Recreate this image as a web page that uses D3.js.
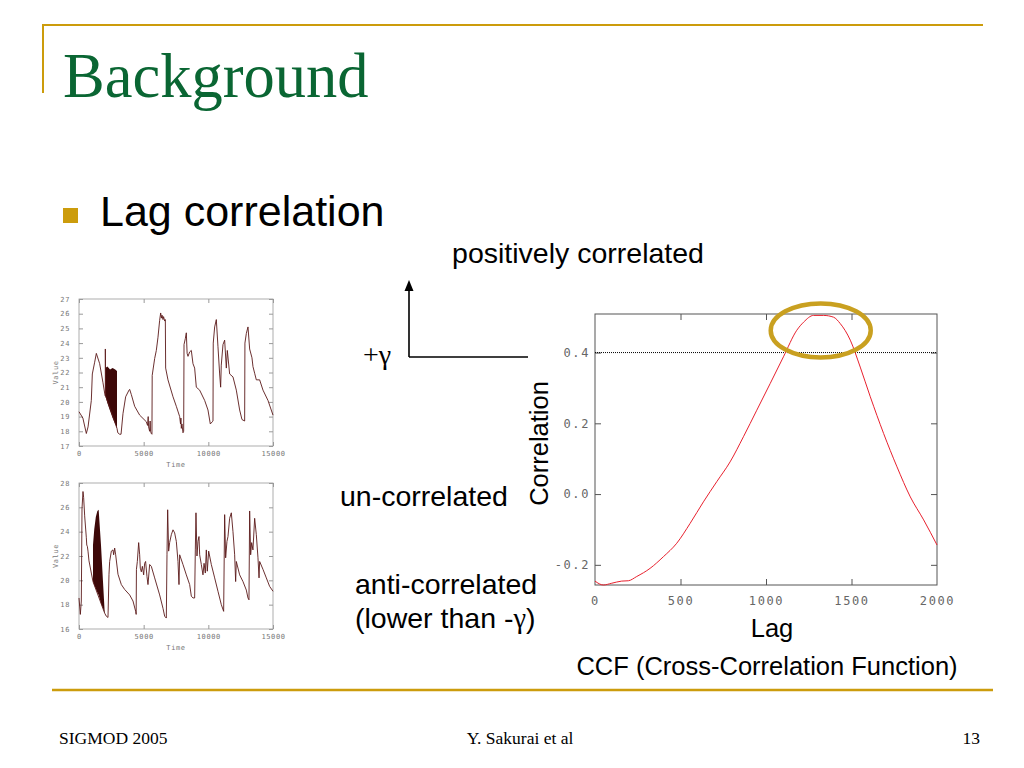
<!DOCTYPE html>
<html><head><meta charset="utf-8">
<script src="https://cdn.jsdelivr.net/npm/d3@7"></script>
<style>
html,body{margin:0;padding:0;background:#fff;}
svg{display:block;}
.mono{font-family:"DejaVu Sans Mono",monospace;}
</style></head>
<body>
<script>
// ---------- DATA ----------
const ccfLag = [0,49,98,156,195,244,322,400,478,556,634,712,790,868,946,1024,1102,1180,1220,1278,1337,1395,1434,1493,1551,1610,1688,1766,1844,1922,2000];
const ccfVal = [-0.246,-0.257,-0.252,-0.246,-0.245,-0.233,-0.210,-0.177,-0.139,-0.083,-0.022,0.035,0.091,0.162,0.237,0.312,0.388,0.463,0.486,0.505,0.505,0.500,0.482,0.435,0.359,0.275,0.171,0.077,-0.008,-0.073,-0.144];
const threshold = 0.4;
const ccfXTicks = [0,500,1000,1500,2000];
const ccfYTicks = [-0.2,0.0,0.2,0.4];

const seriesA = [[0,19.33],[300,18.9],[567,17.85],[700,18.3],[953,20.1],[1030,21.9],[1211,22.7],[1340,23.3],[1598,22.6],[1855,21.3],[1984,20.6],[2036,20.4],[2036,23.6],[2060,20.4],
 [2938,18.2],[3000,17.9],[3144,17.8],[3250,17.8],[3400,19.2],[3608,20.35],[3866,20.8],[3917,20.85],[4046,20.5],[4304,19.7],[4690,19.1],[5205,18.65],[5300,18.4],[5350,19.0],[5380,18.3],[5463,18.0],[5500,18.7],[5530,18.0],[5592,17.85],[5640,17.8],[5660,21.8],[5850,22.95],[5979,23.5],[6108,24.4],[6236,25.55],[6314,26.05],[6380,25.7],[6420,25.9],[6494,25.6],[6540,25.8],[6623,25.5],[6675,25.6],[6700,22.3],[6880,21.5],[7267,20.35],[7525,19.7],[7783,19.0],[7850,18.5],[7880,18.9],[7911,18.2],[7960,18.5],[8040,17.9],[8092,18.0],[8120,23.9],[8220,24.3],[8298,24.7],[8360,23.3],[8427,23.1],[8556,23.4],[8685,23.5],[8813,22.6],[8942,22.3],[9071,21.0],[9329,20.8],[9715,20.1],[9973,19.45],[10153,18.5],[10308,18.65],[10360,18.7],[10380,24.0],[10489,25.1],[10618,25.6],[10746,23.75],[10875,21.9],[10952,21.0],[11000,22.5],[11133,23.9],[11262,24.2],[11391,22.3],[11468,23.5],[11648,21.9],[11906,21.7],[12164,20.8],[12421,19.45],[12601,18.8],[12808,18.7],[12830,24.0],[12937,24.65],[13066,25.1],[13195,23.6],[13375,23.0],[13452,22.4],[13581,21.95],[13710,21.5],[13968,21.5],[14226,20.8],[14612,20.1],[15000,19.1]];
const bandAT  = [2036,2200,2400,2600,2800,2938];
const bandAHi = [22.3,22.4,22.2,22.3,22.2,22.1];
const bandALo = [20.4,19.9,19.4,18.9,18.5,18.2];

const seriesB = [[0,18.55],[103,17.2],[180,18.3],[232,25.9],[309,27.3],[360,26.8],[438,25.3],[567,23.5],[600,22.9],[644,22.8],[696,22.4],[773,21.6],[953,20.6],[1082,19.9],
 [1985,17.3],[2113,17.05],[2242,16.95],[2319,20.5],[2371,21.55],[2500,22.4],[2628,22.5],[2680,22.1],[2757,22.65],[2835,22.1],[3015,20.5],[3273,19.65],[3531,19.25],[3917,18.8],[4175,18.3],[4381,17.45],[4420,17.2],[4440,20.9],[4510,21.55],[4613,23.1],[4690,22.1],[4740,21.0],[4820,20.7],[4900,21.15],[5000,20.45],[5076,21.4],[5150,21.55],[5257,20.3],[5334,19.65],[5463,21.3],[5592,21.15],[5850,20.2],[6236,18.8],[6494,17.7],[6623,17.05],[6752,16.9],[6803,22.1],[6855,25.8],[6932,22.4],[7009,23.1],[7138,23.75],[7267,24.15],[7396,23.9],[7525,23.2],[7654,21.55],[7731,19.65],[7783,22.1],[8040,21.3],[8298,20.45],[8556,19.65],[8685,18.7],[8813,18.55],[8942,18.55],[8994,22.5],[9045,25.55],[9122,22.0],[9200,23.2],[9277,23.6],[9330,22.1],[9458,21.3],[9586,20.45],[9670,21.4],[9767,20.6],[9844,22.5],[9920,20.75],[10025,22.4],[10231,21.3],[10489,20.2],[10746,19.1],[11004,18.0],[11184,17.45],[11262,25.4],[11339,21.85],[11440,23.2],[11520,23.6],[11648,25.1],[11777,25.55],[11906,24.0],[12035,22.1],[12112,19.9],[12164,21.55],[12421,20.45],[12679,19.9],[12937,19.2],[13066,18.55],[13143,18.4],[13195,25.7],[13272,22.1],[13349,23.1],[13450,22.5],[13581,25.1],[13710,23.75],[13839,21.85],[13920,20.2],[13968,21.55],[14226,20.9],[14483,20.2],[14741,19.5],[15000,19.1]];
const bandBT  = [1082,1180,1300,1420,1520,1700,1855,1985];
const bandBHi = [22.9,24.2,25.2,25.7,25.8,22.9,19.9,17.4];
const bandBLo = [19.9,19.6,19.3,19.0,18.8,18.1,17.7,17.3];

const timeTicks = [0,5000,10000,15000];
const valTicksA = [17,18,19,20,21,22,23,24,25,26,27];
const valTicksB = [16,18,20,22,24,26,28];

// ---------- SVG ----------
const W=1024,H=768;
const svg=d3.select("body").append("svg").attr("width",W).attr("height",H);
const gold="#cc9c0c";

// slide decoration
svg.append("line").attr("x1",43).attr("x2",983).attr("y1",25).attr("y2",25).attr("stroke",gold).attr("stroke-width",2);
svg.append("line").attr("x1",43).attr("x2",43).attr("y1",24).attr("y2",93).attr("stroke",gold).attr("stroke-width",2);
svg.append("line").attr("x1",52).attr("x2",993).attr("y1",690).attr("y2",690).attr("stroke",gold).attr("stroke-width",2.5);

svg.append("text").attr("x",63).attr("y",97).text("Background")
  .attr("font-family","Liberation Serif").attr("font-size",62.5).attr("fill","#0a6633");

svg.append("rect").attr("x",63).attr("y",208).attr("width",15).attr("height",15).attr("fill",gold);
svg.append("text").attr("x",100).attr("y",226).text("Lag correlation")
  .attr("font-family","Liberation Sans").attr("font-size",43).attr("fill","#000");

const sans=(x,y,t,fs,anchor)=>svg.append("text").attr("x",x).attr("y",y).text(t)
  .attr("font-family","Liberation Sans").attr("font-size",fs).attr("fill","#000").attr("text-anchor",anchor||"start");

sans(578,263,"positively correlated",28.5,"middle");
sans(340,506,"un-correlated",28.5);
sans(355,594,"anti-correlated",28.5);
const low=svg.append("text").attr("x",355).attr("y",628).attr("font-family","Liberation Sans").attr("font-size",28.5);
low.append("tspan").text("(lower than -");
low.append("tspan").attr("font-family","Liberation Serif").text("γ");
low.append("tspan").text(")");
const pg=svg.append("text").attr("x",363).attr("y",364).attr("font-family","Liberation Serif").attr("font-size",28);
pg.append("tspan").text("+γ");

// arrow annotation
svg.append("path").attr("d","M409,357 L409,288 M409,357 L528,357").attr("stroke","#000").attr("stroke-width",1.6).attr("fill","none");
svg.append("path").attr("d","M404.5,291 L409,280 L413.5,291 Z").attr("fill","#000");

// footer
const serif=(x,y,t,anchor)=>svg.append("text").attr("x",x).attr("y",y).text(t)
  .attr("font-family","Liberation Serif").attr("font-size",17.5).attr("fill","#000").attr("text-anchor",anchor||"start");
serif(59,744,"SIGMOD 2005");
serif(520,744,"Y. Sakurai et al","middle");
serif(980,744,"13","end");

// ---------- small time series plots ----------
function smallPlot(top,bottom,series,bT,bHi,bLo,yTicks,yDom){
  const L=79,R=273;
  const x=d3.scaleLinear().domain([0,15000]).range([L,R]);
  const y=d3.scaleLinear().domain(yDom).range([bottom,top]);
  const g=svg.append("g");
  g.append("rect").attr("x",L).attr("y",top).attr("width",R-L).attr("height",bottom-top)
    .attr("fill","none").attr("stroke","#9a9a9a").attr("stroke-width",0.8);
  const ax=g.append("g").attr("transform",`translate(0,${bottom})`)
    .call(d3.axisBottom(x).tickValues(timeTicks).tickSize(-4).tickPadding(5).tickFormat(d3.format("d")));
  const ay=g.append("g").attr("transform",`translate(${L},0)`)
    .call(d3.axisLeft(y).tickValues(yTicks).tickSize(-4).tickPadding(9).tickFormat(d3.format("d")));
  const ar=g.append("g").attr("transform",`translate(${R},0)`)
    .call(d3.axisRight(y).tickValues(yTicks).tickSize(-4).tickFormat(""));
  const at=g.append("g").attr("transform",`translate(0,${top})`)
    .call(d3.axisTop(x).tickValues(timeTicks).tickSize(-4).tickFormat(""));
  [ax,ay,ar,at].forEach(a=>{a.select(".domain").remove();a.selectAll("line").attr("stroke","#9a9a9a");
    a.selectAll("text").attr("class","mono").attr("font-size",7).attr("fill","#777").attr("letter-spacing",0.6);});
  const band=bT.map((t,i)=>({t,hi:bHi[i],lo:bLo[i]}));
  g.append("path").datum(band).attr("fill","#3d0808")
    .attr("d",d3.area().x(d=>x(d.t)).y0(d=>y(d.lo)).y1(d=>y(d.hi)));
  g.append("path").datum(series).attr("fill","none").attr("stroke","#5a1818").attr("stroke-width",0.9)
    .attr("d",d3.line().x(d=>x(d[0])).y(d=>y(d[1])));
  g.append("text").attr("class","mono").attr("x",176).attr("y",bottom+21).attr("text-anchor","middle")
    .attr("font-size",7).attr("fill","#777").attr("letter-spacing",0.6).text("Time");
  g.append("text").attr("class","mono").attr("transform",`translate(58,${(top+bottom)/2}) rotate(-90)`)
    .attr("text-anchor","middle").attr("font-size",7).attr("fill","#777").attr("letter-spacing",0.6).text("Value");
}
smallPlot(299,446,seriesA,bandAT,bandAHi,bandALo,valTicksA,[17,27]);
smallPlot(483,629,seriesB,bandBT,bandBHi,bandBLo,valTicksB,[16,28]);

// ---------- CCF plot ----------
{
  const L=595,R=937,T=314,B=585;
  const x=d3.scaleLinear().domain([0,2000]).range([L,R]);
  const y=d3.scaleLinear().domain([-0.257,0.509]).range([B,T]);
  const g=svg.append("g");
  g.append("rect").attr("x",L).attr("y",T).attr("width",R-L).attr("height",B-T)
    .attr("fill","none").attr("stroke","#555").attr("stroke-width",1);
  const inner=[500,1000,1500];
  const ax=g.append("g").attr("transform",`translate(0,${B})`)
    .call(d3.axisBottom(x).tickValues(ccfXTicks).tickSize(0).tickPadding(11).tickFormat(d3.format("d")));
  const axl=g.append("g").attr("transform",`translate(0,${B})`)
    .call(d3.axisBottom(x).tickValues(inner).tickSize(-6).tickFormat(""));
  const at=g.append("g").attr("transform",`translate(0,${T})`)
    .call(d3.axisTop(x).tickValues(inner).tickSize(-6).tickFormat(""));
  const ay=g.append("g").attr("transform",`translate(${L},0)`)
    .call(d3.axisLeft(y).tickValues(ccfYTicks).tickSize(-6).tickPadding(5).tickFormat(d3.format(".1f")));
  const ar=g.append("g").attr("transform",`translate(${R},0)`)
    .call(d3.axisRight(y).tickValues(ccfYTicks).tickSize(-6).tickFormat(""));
  [ax,axl,at,ay,ar].forEach(a=>{a.select(".domain").remove();a.selectAll("line").attr("stroke","#555");
    a.selectAll("text").attr("class","mono").attr("font-size",12).attr("fill","#666").attr("letter-spacing",1.6).text(function(){return d3.select(this).text().replace("−","-");});});
  g.append("line").attr("x1",L).attr("x2",R).attr("y1",y(threshold)).attr("y2",y(threshold))
    .attr("stroke","#000").attr("stroke-width",1).attr("stroke-dasharray","1,1");
  const pts=ccfLag.map((l,i)=>[l,ccfVal[i]]);
  g.append("path").datum(pts).attr("fill","none").attr("stroke","#e8212e").attr("stroke-width",1)
    .attr("d",d3.line().x(d=>x(d[0])).y(d=>y(d[1])).curve(d3.curveMonotoneX));
  g.append("text").attr("transform",`translate(548,${(T+B)/2+ -6}) rotate(-90)`).attr("text-anchor","middle")
    .attr("font-family","Liberation Sans").attr("font-size",25.5).attr("fill","#000").text("Correlation");
  g.append("text").attr("x",772).attr("y",637).attr("text-anchor","middle")
    .attr("font-family","Liberation Sans").attr("font-size",25.5).attr("fill","#000").text("Lag");
  g.append("text").attr("x",767).attr("y",675).attr("text-anchor","middle")
    .attr("font-family","Liberation Sans").attr("font-size",25.5).attr("fill","#000").text("CCF (Cross-Correlation Function)");
  // highlight ellipse around the peak
  const pk=d3.maxIndex(ccfVal);
  g.append("ellipse").attr("cx",x(1320)).attr("cy",y(ccfVal[pk])+15).attr("rx",50).attr("ry",27)
    .attr("fill","none").attr("stroke","#c9a020").attr("stroke-width",4.5);
}
</script>
</body></html>
